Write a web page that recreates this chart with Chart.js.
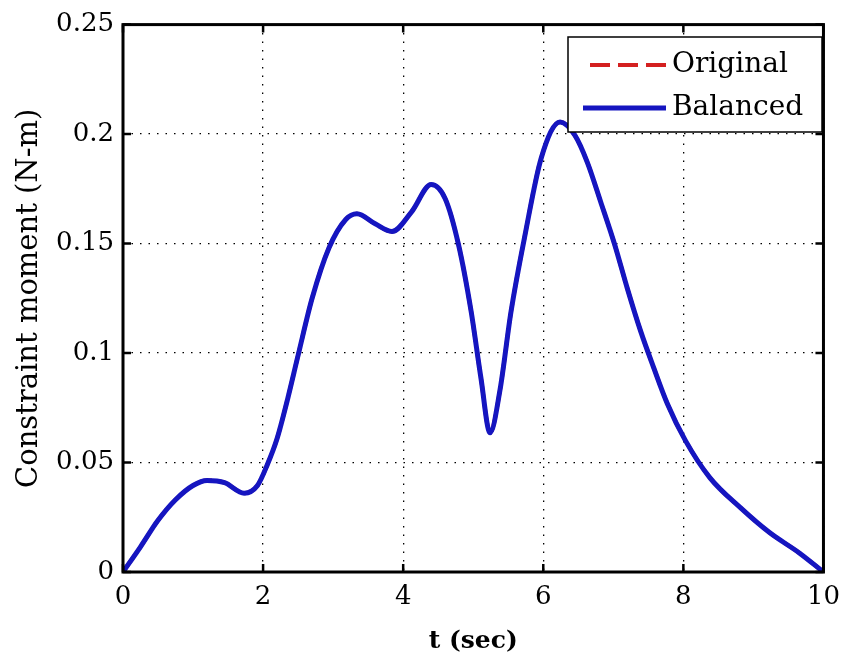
<!DOCTYPE html>
<html>
<head>
<meta charset="utf-8">
<script src="https://cdn.jsdelivr.net/npm/chart.js@4.4.1/dist/chart.umd.min.js"></script>
<style>
  html, body { margin: 0; padding: 0; background: #fff; }
  #wrap { width: 850px; height: 657px; }
</style>
</head>
<body>
<div id="wrap"><canvas id="momentChart" width="850" height="657"></canvas></div>
<script>
// time (sec) and constraint moment (N-m)
const tSec = [0, 0.25, 0.5, 0.75, 1.0, 1.2, 1.45, 1.73, 1.92, 2.06, 2.2, 2.35, 2.5, 2.7, 2.94,
  3.18, 3.34, 3.6, 3.84, 4.12, 4.4, 4.6, 4.79, 4.97, 5.11, 5.24, 5.38, 5.54, 5.74, 5.97,
  6.24, 6.45, 6.63, 6.82, 7.02, 7.2, 7.39, 7.58, 7.77, 8.03, 8.38, 8.81, 9.23, 9.66, 10];
const balanced = [0, 0.0115, 0.0236, 0.033, 0.0395, 0.0418, 0.0408, 0.036, 0.0395, 0.049, 0.061, 0.079, 0.099, 0.125, 0.148,
  0.161, 0.1636, 0.159, 0.1555, 0.1645, 0.177, 0.1705, 0.1495, 0.119, 0.0886, 0.0636, 0.0827, 0.119, 0.154, 0.189,
  0.2055, 0.1995, 0.187, 0.169, 0.1495, 0.1295, 0.11, 0.093, 0.077, 0.06, 0.043, 0.0295, 0.018, 0.0086, 0];
// original curve lies under the balanced one
const original = balanced.slice();

const xTicks = [0, 2, 4, 6, 8, 10];
const yTicks = [0, 0.05, 0.1, 0.15, 0.2, 0.25];

const serif = "'DejaVu Serif', 'Liberation Serif', serif";

function pts(ys) {
    return tSec.map((t, i) => ({ x: t, y: ys[i] }));
}

// box frame + inward tick marks, like matlab
const framePlugin = {
    id: "frame",
    afterDraw(chart) {
        const { ctx, chartArea: a, scales } = chart;
        ctx.save();
        ctx.strokeStyle = "#000";
        ctx.lineWidth = 2.5;
        const len = 8;
        ctx.beginPath();
        xTicks.forEach(v => {
            const x = scales.x.getPixelForValue(v);
            ctx.moveTo(x, a.bottom); ctx.lineTo(x, a.bottom - len);
            ctx.moveTo(x, a.top); ctx.lineTo(x, a.top + len);
        });
        yTicks.forEach(v => {
            const y = scales.y.getPixelForValue(v);
            ctx.moveTo(a.left, y); ctx.lineTo(a.left + len, y);
            ctx.moveTo(a.right, y); ctx.lineTo(a.right - len, y);
        });
        ctx.stroke();
        ctx.lineWidth = 3;
        ctx.strokeRect(a.left, a.top, a.right - a.left, a.bottom - a.top);
        ctx.restore();
    }
};

// legend box in the upper right corner
const legendPlugin = {
    id: "boxLegend",
    afterDraw(chart) {
        const { ctx } = chart;
        const ds = chart.data.datasets;
        const box = { x: 568, y: 37, w: 254, h: 95 };
        ctx.save();
        ctx.fillStyle = "#fff";
        ctx.fillRect(box.x, box.y, box.w, box.h);
        ctx.strokeStyle = "#000";
        ctx.lineWidth = 1.5;
        ctx.strokeRect(box.x, box.y, box.w, box.h);
        const rows = [65, 108];
        ds.forEach((d, i) => {
            const y = rows[i];
            ctx.beginPath();
            ctx.strokeStyle = d.borderColor;
            ctx.lineWidth = d.borderWidth;
            ctx.setLineDash(d.borderDash || []);
            ctx.moveTo(i === 0 ? 590 : 583, y);
            ctx.lineTo(666, y);
            ctx.stroke();
            ctx.setLineDash([]);
            ctx.fillStyle = "#000";
            ctx.font = "28px " + serif;
            ctx.textBaseline = "middle";
            ctx.fillText(d.label, 672, y);
        });
        ctx.restore();
    }
};

new Chart(document.getElementById("momentChart"), {
    type: "line",
    data: {
        datasets: [
            {
                label: "Original",
                data: pts(original),
                borderColor: "#d42020",
                borderWidth: 4,
                borderDash: [20, 8],
                pointRadius: 0,
                cubicInterpolationMode: "monotone",
                order: 2
            },
            {
                label: "Balanced",
                data: pts(balanced),
                borderColor: "#1515c0",
                borderWidth: 5,
                pointRadius: 0,
                cubicInterpolationMode: "monotone",
                order: 1
            }
        ]
    },
    options: {
        responsive: false,
        animation: false,
        layout: { padding: { left: 0, right: 23, top: 22, bottom: 0 } },
        plugins: {
            legend: { display: false },
            tooltip: { enabled: false }
        },
        scales: {
            x: {
                type: "linear",
                min: 0, max: 10,
                afterBuildTicks: s => { s.ticks = xTicks.map(v => ({ value: v })); },
                afterFit: s => { s.height = 85; },
                grid: { color: "#000", lineWidth: 1.3, drawTicks: false },
                border: { display: false, dash: [1.5, 7] },
                ticks: { color: "#000", padding: 10, maxRotation: 0, font: { family: serif, size: 26 } },
                title: {
                    display: true, text: "t (sec)", color: "#000",
                    font: { family: serif, size: 25, weight: "bold" },
                    padding: { top: 0, bottom: 1 }
                }
            },
            y: {
                min: 0, max: 0.25,
                afterBuildTicks: s => { s.ticks = yTicks.map(v => ({ value: v })); },
                afterFit: s => { s.width = 123; },
                grid: { color: "#000", lineWidth: 1.3, drawTicks: false },
                border: { display: false, dash: [1.5, 7] },
                ticks: {
                    color: "#000", padding: 9,
                    font: { family: serif, size: 26 },
                    callback: v => String(v)
                },
                title: {
                    display: true, text: "Constraint moment (N-m)", color: "#000",
                    font: { family: serif, size: 29 },
                    padding: { top: 12, bottom: 0 }
                }
            }
        }
    },
    plugins: [framePlugin, legendPlugin]
});
</script>
</body>
</html>
